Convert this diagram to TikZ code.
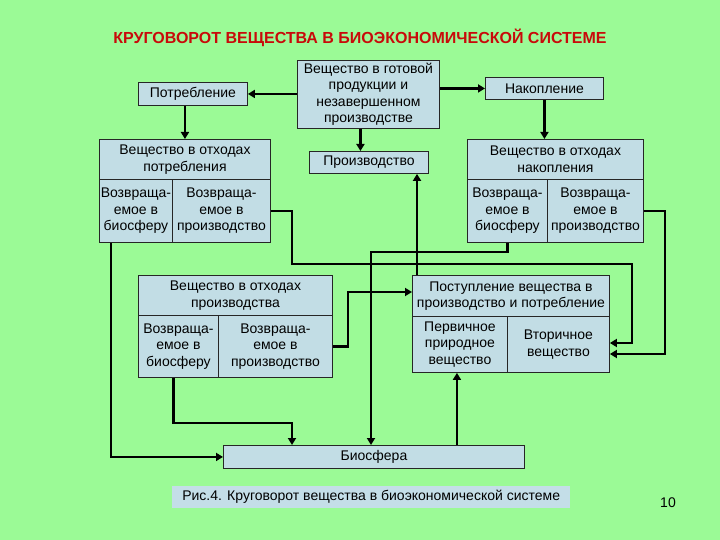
\documentclass[tikz,border=0pt]{standalone}
\usepackage{fontspec}
\setmainfont{Liberation Sans}
\usetikzlibrary{arrows.meta}
\definecolor{bg}{RGB}{155,250,150}
\definecolor{boxfill}{RGB}{194,221,229}
\definecolor{capfill}{RGB}{196,222,232}
\definecolor{titlered}{RGB}{200,10,10}
\begin{document}
\begin{tikzpicture}[x=1pt,y=-1pt,
  box/.style={draw=black!85, line width=0.9pt, fill=boxfill, anchor=north west,
    inner sep=0.5pt, align=center, font=\fontsize{14}{16.5}\selectfont},
  conn/.style={line width=2.8pt, -{Triangle[length=7pt,width=8pt]}}]
\fill[bg] (0,0) rectangle (720,540);
\useasboundingbox (0,0) rectangle (720,540);

\node[font=\bfseries\fontsize{16}{19}\selectfont, text=titlered] (title) at (360,38)
  {КРУГОВОРОТ ВЕЩЕСТВА В БИОЭКОНОМИЧЕСКОЙ СИСТЕМЕ};

\node[box, minimum width=109, minimum height=23] (potr) at (138,82) {Потребление};
\node[box, minimum width=142, minimum height=68] (gotov) at (297,60)
  {Вещество в готовой\\продукции и\\незавершенном\\производстве};
\node[box, minimum width=118, minimum height=22] (nakop) at (485,77) {Накопление};
\node[box, minimum width=119, minimum height=22] (proizv) at (309,151) {Производство};

% waste of consumption
\node[box, minimum width=171, minimum height=40] (opt) at (99,139) {Вещество в отходах\\потребления};
\node[box, minimum width=73, minimum height=63] (opl) at (99,179) {Возвраща-\\емое в\\биосферу};
\node[box, minimum width=98, minimum height=63] (opr) at (172,179) {Возвраща-\\емое в\\производство};

% waste of accumulation
\node[box, minimum width=176, minimum height=40] (ont) at (467,139) {Вещество в отходах\\накопления};
\node[box, minimum width=80, minimum height=63] (onl) at (467,179) {Возвраща-\\емое в\\биосферу};
\node[box, minimum width=96, minimum height=63] (onr) at (547,179) {Возвраща-\\емое в\\производство};

% waste of production
\node[box, minimum width=194, minimum height=40] (ott) at (138,275) {Вещество в отходах\\производства};
\node[box, minimum width=80, minimum height=62] (otl) at (138,315) {Возвраща-\\емое в\\биосферу};
\node[box, minimum width=114, minimum height=62] (otr) at (218,315) {Возвраща-\\емое в\\производство};

% input
\node[box, minimum width=197, minimum height=41] (postt) at (412,275) {Поступление вещества в\\производство и потребление};
\node[box, minimum width=95, minimum height=56] (postl) at (412,316) {Первичное\\природное\\вещество};
\node[box, minimum width=102, minimum height=56] (postr) at (507,316) {Вторичное\\вещество};

\node[box, minimum width=301, minimum height=23] (bio) at (223,445) {Биосфера};

\node[fill=capfill, minimum width=398, minimum height=22, anchor=north west, inner sep=1pt,
  font=\fontsize{14}{16}\selectfont] (cap) at (172,486)
  {Рис.4. Круговорот вещества в биоэкономической системе};
\node[font=\fontsize{14}{16}\selectfont] (pnum) at (668,503) {10};

% connectors
\draw[conn] (gotov.west |- potr.east) -- (potr.east);
\draw[conn] (gotov.east |- nakop.west) -- (nakop.west);
\draw[conn] (potr.south -| opt.north) -- (opt.north);
\coordinate (g1) at ([xshift=-8pt]gotov.south);
\draw[conn] (g1) -- (g1 |- proizv.north);
\draw[conn] (nakop.south) -- (nakop.south |- ont.north);

\draw[conn] ([xshift=12pt]opl.south west) |- (bio.west);

\coordinate (b1) at (292,264);
\coordinate (b2) at (632,343);
\draw[conn] (opr.east) -| (b1) -| (b2) -- (b2 -| postr.east);

\coordinate (b3) at (665,354);
\draw[conn] (onr.east) -| (b3) -- (b3 -| postr.east);

\coordinate (b4) at (371,252);
\draw[conn] (onl.south) |- (b4) -- (b4 |- bio.north);

\coordinate (b5) at (348,292);
\draw[conn] (otr.east) -| (b5) -- (b5 -| postt.west);

\coordinate (b6) at (292,423);
\draw[conn] ([xshift=-5pt]otl.south) |- (b6) -- (b6 |- bio.north);

\coordinate (b7) at ([xshift=-3pt]postl.south);
\draw[conn] (b7 |- bio.north) -- (b7);

\coordinate (b8) at ([xshift=5pt]postt.north west);
\draw[conn] (b8) -- (b8 |- proizv.south);
\end{tikzpicture}
\end{document}
